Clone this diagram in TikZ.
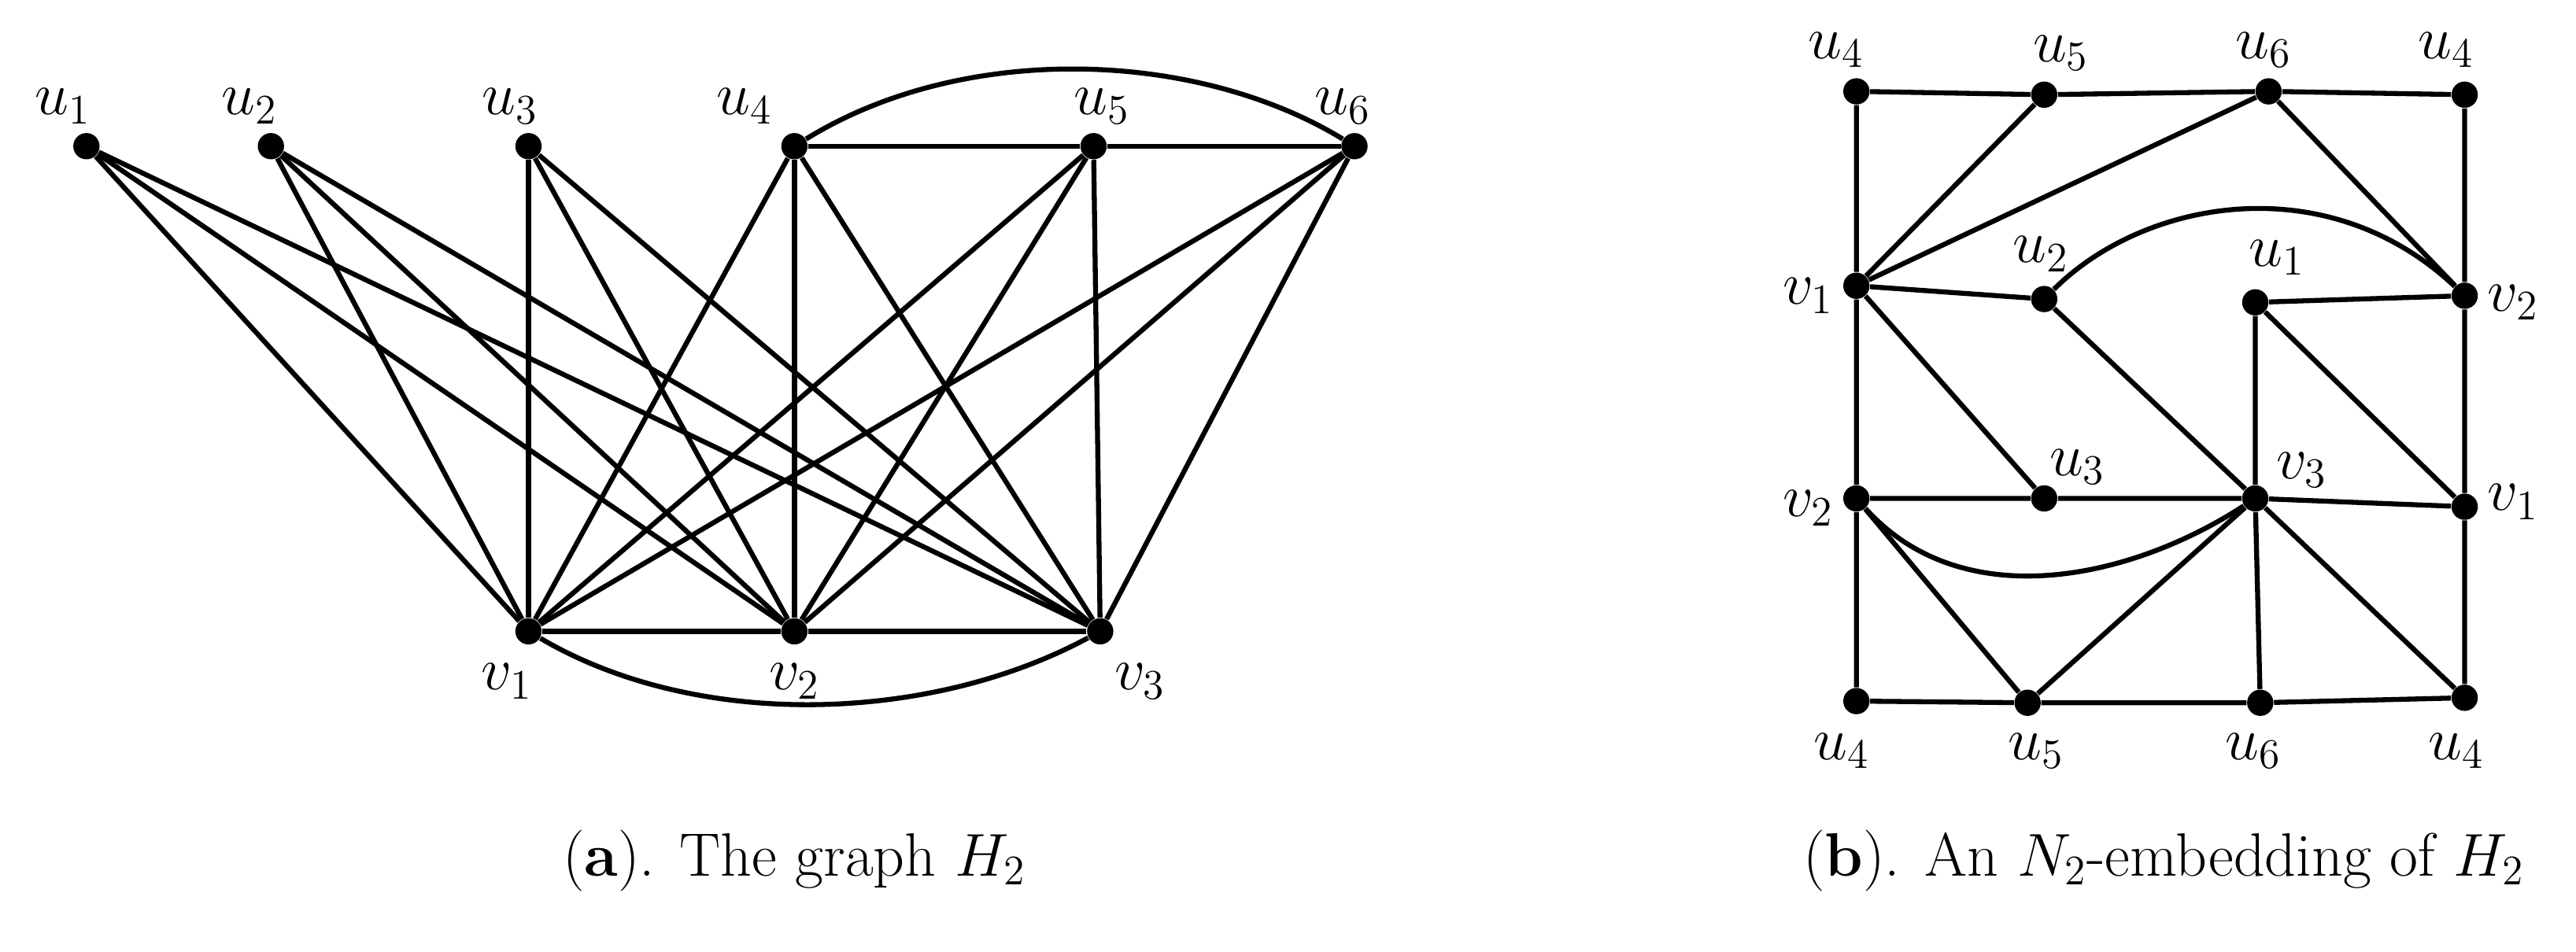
\documentclass[tikz,border=0pt]{standalone}
\begin{document}
\begin{tikzpicture}[x=0.02cm,y=-0.02cm,
 dot/.style={circle,fill=black,inner sep=0pt,minimum size=9pt},
 lbl/.style={font=\fontsize{21}{24}\selectfont},
 edge/.style={line width=1.7pt}]
\useasboundingbox (0,0) rectangle (1550,573);
% left graph
\foreach \n/\x in {u1/52,u2/163,u3/318,u4/478,u5/658,u6/815}{\node[dot] (\n) at (\x,88) {};}
\foreach \n/\x in {v1/318,v2/478,v3/662}{\node[dot] (\n) at (\x,380) {};}
\foreach \a in {u1,u2,u3,u4,u5,u6}{\foreach \b in {v1,v2,v3}{\draw[edge] (\a)--(\b);}}
\draw[edge] (u4)--(u5)--(u6) (v1)--(v2)--(v3);
\draw[edge] (u4) .. controls (580,25) and (720,30) .. (u6);
\draw[edge] (v1) .. controls (420,440) and (560,435) .. (v3);
\node[lbl] (lu1) at (38,64) {$u_1$};
\node[lbl] (lu2) at (150,64) {$u_2$};
\node[lbl] (lu3) at (307,64) {$u_3$};
\node[lbl] (lu4) at (448,64) {$u_4$};
\node[lbl] (lu5) at (663,64) {$u_5$};
\node[lbl] (lu6) at (808,64) {$u_6$};
\node[lbl] (lv1) at (305,410) {$v_1$};
\node[lbl] (lv2) at (478,410) {$v_2$};
\node[lbl] (lv3) at (686,410) {$v_3$};
\node[lbl] (capa) at (478,518) {(\textbf{a}). The graph $H_2$};
% right graph
\node[dot] (a1) at (1117,55) {}; \node[dot] (a2) at (1230,57) {}; \node[dot] (a3) at (1365,55) {}; \node[dot] (a4) at (1483,57) {};
\node[dot] (b1) at (1117,172) {}; \node[dot] (b2) at (1230,180) {}; \node[dot] (b3) at (1357,182) {}; \node[dot] (b4) at (1483,178) {};
\node[dot] (c1) at (1117,300) {}; \node[dot] (c2) at (1230,300) {}; \node[dot] (c3) at (1357,300) {}; \node[dot] (c4) at (1483,305) {};
\node[dot] (d1) at (1117,422) {}; \node[dot] (d2) at (1220,423) {}; \node[dot] (d3) at (1360,423) {}; \node[dot] (d4) at (1483,420) {};
\draw[edge] (a1)--(a2)--(a3)--(a4)--(b4)--(c4)--(d4)--(d3)--(d2)--(d1)--(c1)--(b1)--(a1);
\draw[edge] (b1)--(a2) (b1)--(a3) (a3)--(b4) (b1)--(b2) (b1)--(c2) (b2)--(c3)
 (b3)--(b4) (b3)--(c3) (b3)--(c4) (c1)--(c2)--(c3)--(c4)
 (c1)--(d2)--(c3)--(d3) (c3)--(d4);
\draw[edge] (b2) .. controls (1290,120) and (1400,100) .. (b4);
\draw[edge] (c1) .. controls (1180,370) and (1280,350) .. (c3);
\node[lbl] (la1) at (1105,30) {$u_4$};
\node[lbl] (la2) at (1240,32) {$u_5$};
\node[lbl] (la3) at (1362,30) {$u_6$};
\node[lbl] (la4) at (1472,30) {$u_4$};
\node[lbl] (lb1) at (1088,178) {$v_1$};
\node[lbl] (lb2) at (1228,153) {$u_2$};
\node[lbl] (lb3) at (1370,155) {$u_1$};
\node[lbl] (lb4) at (1512,182) {$v_2$};
\node[lbl] (lc1) at (1088,306) {$v_2$};
\node[lbl] (lc2) at (1250,281) {$u_3$};
\node[lbl] (lc3) at (1385,283) {$v_3$};
\node[lbl] (lc4) at (1512,302) {$v_1$};
\node[lbl] (ld1) at (1108,452) {$u_4$};
\node[lbl] (ld2) at (1225,452) {$u_5$};
\node[lbl] (ld3) at (1356,452) {$u_6$};
\node[lbl] (ld4) at (1478,452) {$u_4$};
\node[lbl] (capb) at (1302,518) {(\textbf{b}). An $N_2$-embedding of $H_2$};
\end{tikzpicture}
\end{document}
